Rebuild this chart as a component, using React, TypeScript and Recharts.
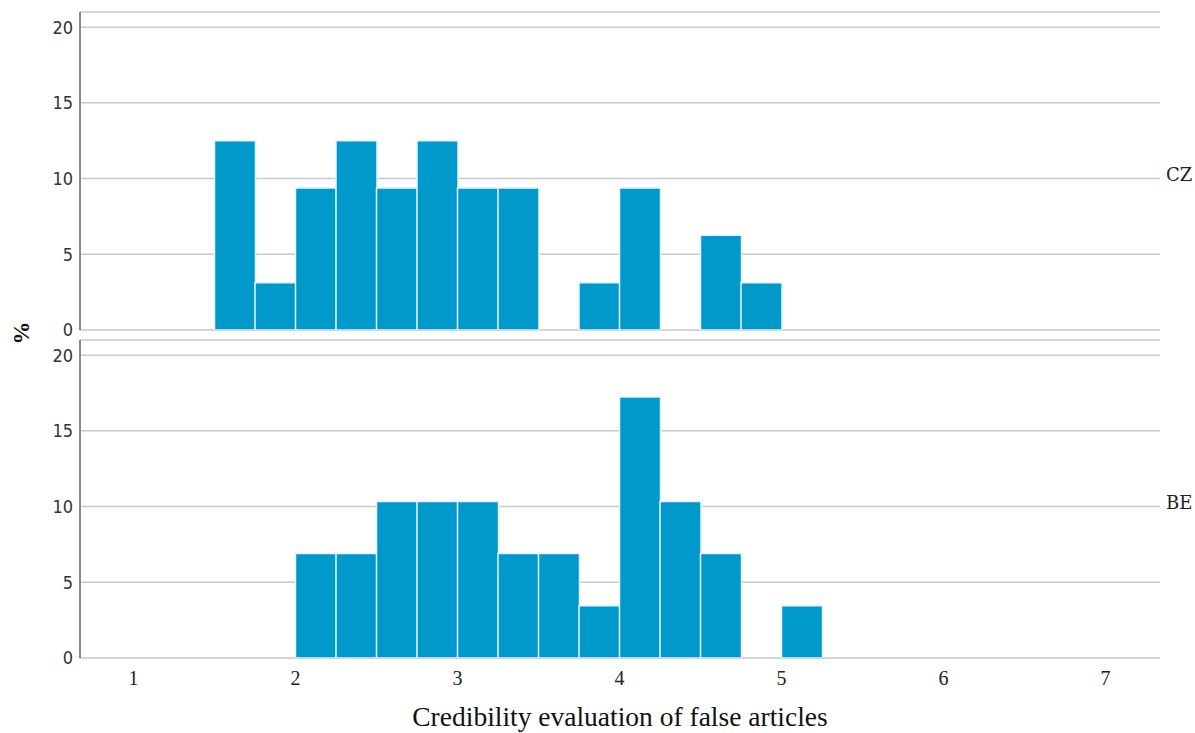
import React from 'react';
import { BarChart, Bar, XAxis, YAxis, CartesianGrid, Label } from 'recharts';

// histogram bins of width 0.25, labelled by lower edge
const bins = [
  0.75, 1, 1.25, 1.5, 1.75, 2, 2.25, 2.5, 2.75, 3, 3.25, 3.5, 3.75,
  4, 4.25, 4.5, 4.75, 5, 5.25, 5.5, 5.75, 6, 6.25, 6.5, 6.75, 7,
];

const czPct = [
  0, 0, 0, 12.5, 3.125, 9.375, 12.5, 9.375, 12.5, 9.375, 9.375, 0, 3.125,
  9.375, 0, 6.25, 3.125, 0, 0, 0, 0, 0, 0, 0, 0, 0,
];

const bePct = [
  0, 0, 0, 0, 0, 6.9, 6.9, 10.34, 10.34, 10.34, 6.9, 6.9, 3.45,
  17.24, 10.34, 6.9, 0, 3.45, 0, 0, 0, 0, 0, 0, 0, 0,
];

const xTicks = [1, 2, 3, 4, 5, 6, 7];
const yTicks = [0, 5, 10, 15, 20];

const czData = bins.map((b, i) => ({ bin: b, pct: czPct[i] }));
const beData = bins.map((b, i) => ({ bin: b, pct: bePct[i] }));

const BAR = '#0099cc';
const GRID = '#c9c9c9';
const AXIS = '#8a8a8a';
const PAD = { left: 13, right: 14 };
const SERIF = '"Liberation Serif", "Times New Roman", serif';

const yTickStyle = {
  fontFamily: '"DejaVu Sans Condensed", "DejaVu Sans", sans-serif',
  fontStretch: 'condensed',
  fontSize: 18,
  fill: '#333',
};

const Panel = ({ data, name, bottom }: { data: any[]; name: string; bottom: boolean }) => (
  <BarChart
    width={1195}
    height={bottom ? 403 : 345}
    data={data}
    barCategoryGap={0}
    margin={bottom ? { top: 10, right: 0, bottom: 0, left: 40 } : { top: 12, right: 0, bottom: 15, left: 40 }}
  >
    <CartesianGrid vertical={false} stroke={GRID} strokeWidth={1.5} />
    <XAxis
      dataKey="bin"
      type="category"
      padding={PAD}
      height={0}
      tick={false}
      tickLine={false}
      axisLine={{ stroke: AXIS, strokeWidth: 2 }}
    />
    {bottom && (
      <XAxis
        xAxisId="num"
        dataKey="bin"
        type="number"
        domain={[0.75, 7.25]}
        allowDataOverflow
        ticks={xTicks}
        padding={PAD}
        height={75}
        axisLine={false}
        tickLine={false}
        tickSize={0}
        tickMargin={13}
        tick={{ fontFamily: SERIF, fontSize: 20, fill: '#222' }}
      >
        <Label
          value="Credibility evaluation of false articles"
          position="insideBottom"
          offset={7}
          style={{ fontFamily: SERIF, fontSize: 27.5, fill: '#111' }}
        />
      </XAxis>
    )}
    <YAxis
      domain={[0, 21]}
      allowDataOverflow
      ticks={yTicks}
      width={40}
      tickLine={false}
      tickSize={0}
      tickMargin={7}
      axisLine={{ stroke: AXIS, strokeWidth: 2 }}
      tick={yTickStyle}
    />
    <YAxis
      yAxisId="lab"
      orientation="right"
      domain={[0, 21]}
      allowDataOverflow
      ticks={[10]}
      tickFormatter={() => name}
      width={35}
      axisLine={false}
      tickLine={false}
      tickSize={0}
      tickMargin={6}
      tick={{ fontFamily: '"DejaVu Serif", serif', fontSize: 18, fill: '#222', dy: -4 }}
    />
    <Bar dataKey="pct" fill={BAR} stroke="#e4f4fa" strokeWidth={1.5} isAnimationActive={false} />
  </BarChart>
);

export default function App() {
  return (
    <div style={{ position: 'absolute', left: 0, top: 0, width: 1195, height: 733, background: '#fff' }}>
      <div style={{ position: 'absolute', left: 0, top: 0 }}>
        <Panel data={czData} name="CZ" bottom={false} />
      </div>
      <div style={{ position: 'absolute', left: 0, top: 330 }}>
        <Panel data={beData} name="BE" bottom={true} />
      </div>
      <div
        style={{
          position: 'absolute',
          left: 21,
          top: 333,
          transform: 'translate(-50%, -50%) rotate(-90deg)',
          fontFamily: SERIF,
          fontWeight: 'bold',
          fontSize: 23,
          color: '#111',
          lineHeight: 1,
        }}
      >
        %
      </div>
    </div>
  );
}
